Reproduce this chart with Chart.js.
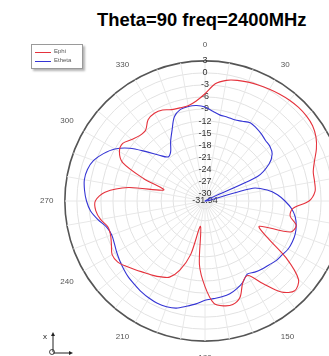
<!DOCTYPE html>
<html>
<head>
<meta charset="utf-8">
<script src="https://cdn.jsdelivr.net/npm/chart.js@4/dist/chart.umd.min.js"></script>
<style>
  html, body { margin: 0; padding: 0; width: 329px; height: 356px; overflow: hidden; background: #fff; }
  body { position: relative; font-family: "Liberation Sans", Arial, sans-serif; }
  .chart-title { position: absolute; left: 97px; top: 11px; white-space: nowrap; font-weight: bold; font-size: 18.4px; line-height: 18px; color: #000; }
  .chart-box { position: absolute; left: 38px; top: 37px; width: 330px; height: 330px; }
  .legend { position: absolute; left: 31px; top: 44px; width: 50px; height: 23px; border: 1px solid #9a9a9a; background: #fff; box-shadow: 2px 2px 2px #b5b5b5; font-size: 6px; color: #555; }
  .legend div { position: absolute; left: 22px; line-height: 7px; }
  .legend span { position: absolute; left: 3px; width: 16px; height: 0; }
  .axis-icon { position: absolute; left: 40px; top: 328px; }
</style>
</head>
<body>
<div class="chart-title">Theta=90 freq=2400MHz</div>
<div class="chart-box"><canvas id="polarChart"></canvas></div>
<div class="legend">
  <span style="top:7px;border-top:1px solid #e5323c"></span><div style="top:3px">Ephi</div>
  <span style="top:16px;border-top:1px solid #3434d4"></span><div style="top:12px">Etheta</div>
</div>
<svg class="axis-icon" width="40" height="28" viewBox="0 0 40 28">
  <text x="3" y="11" font-size="8" font-family="Liberation Sans, Arial" fill="#222">x</text>
  <line x1="13" y1="24" x2="13" y2="6" stroke="#222" stroke-width="1"/>
  <polygon points="13,4 11,8 15,8" fill="#222"/>
  <line x1="13" y1="25" x2="31" y2="25" stroke="#222" stroke-width="1"/>
  <polygon points="33,25 29,23 29,27" fill="#222"/>
  <circle cx="12" cy="24" r="2.5" fill="none" stroke="#222" stroke-width="0.8"/>
</svg>
<script>
  // angles in degrees, 5 degree steps, 0 at top and clockwise
  const angles = [];
  for (let a = 0; a < 360; a += 5) angles.push(String(a));

  const radialTicks = [-31.94, -30, -27, -24, -21, -18, -15, -12, -9, -6, -3, 0, 3];

  const ephi = [
    -5.2, -2.6, -1.4, -0.8, -0.4, -0.1, 0.2, 0.55, 0.85, 1.05, 1.05, 0.8,
    0.0, -1.3, -2.9, -4.0, -4.2, -4.4, -6.0, -10.0, -10.4, -8.4, -9.3, -17.0,
    -14.3, -7.3, -1.5, -0.3, -2.3, -6.8, -10.5, -9.6, -6.4, -5.2, -5.4, -6.3,
    -10.6, -16.0, -25.5, -18.1, -13.6, -11.0, -10.1, -9.3, -8.6, -7.6, -6.5, -5.4,
    -5.2, -6.2, -6.9, -6.9, -5.5, -4.6, -4.6, -6.9, -12.6, -21.3, -15.7, -9.3,
    -7.3, -6.9, -8.1, -8.9, -8.9, -7.2, -6.7, -6.9, -7.7, -7.9, -7.8, -6.9,
  ];

  const etheta = [
    -8.5, -9.5, -10.2, -10.3, -10.4, -10.0, -9.4, -9.7, -10.1, -10.6, -10.8, -11.5,
    -13.5, -17.5, -31.94, -19.6, -16.2, -13.8, -12.0, -10.3, -9.1, -8.4, -8.0, -7.9,
    -8.0, -8.5, -8.8, -9.4, -9.8, -10.3, -10.9, -9.6, -8.7, -8.0, -7.7, -7.5,
    -7.2, -6.2, -5.3, -4.3, -3.9, -3.8, -4.0, -4.3, -4.7, -5.0, -5.5, -6.0,
    -6.5, -7.0, -7.2, -6.6, -4.9, -3.3, -2.4, -1.8, -1.4, -1.6, -2.4, -4.0,
    -6.0, -9.0, -12.8, -15.8, -17.6, -17.0, -14.8, -12.5, -9.6, -8.3, -8.0, -8.05,
  ];

  const ctx = document.getElementById("polarChart");

  const polarChart = new Chart(ctx, {
    type: "radar",
    data: {
      labels: angles,
      datasets: [
        {
          label: "Ephi",
          data: ephi,
          borderColor: "#e5323c",
          borderWidth: 1.1,
          fill: false,
          tension: 0.3,
        },
        {
          label: "Etheta",
          data: etheta,
          borderColor: "#3434d4",
          borderWidth: 1.1,
          fill: false,
          tension: 0.3,
        },
      ],
    },
    options: {
      responsive: true,
      maintainAspectRatio: false,
      animation: false,
      elements: {
        point: { radius: 0, hoverRadius: 0 },
      },
      scales: {
        r: {
          min: radialTicks[0],
          max: radialTicks[radialTicks.length - 1],
          afterBuildTicks(scale) {
            scale.ticks = radialTicks.map((value) => ({ value }));
          },
          ticks: {
            showLabelBackdrop: false,
            color: "#333",
            font: { family: "Liberation Sans", size: 9 },
            callback(value) {
              return String(value);
            },
          },
          grid: {
            circular: true,
            color(context) {
              return context.index === radialTicks.length - 1 ? "#555" : "#e2e2e2";
            },
            lineWidth(context) {
              return context.index === radialTicks.length - 1 ? 1.6 : 1;
            },
          },
          angleLines: {
            color(context) {
              return context.index % 2 === 0 ? "#e8e8e8" : "rgba(0,0,0,0)";
            },
          },
          pointLabels: {
            padding: 5,
            color: "#555",
            font: { family: "Liberation Sans", size: 8 },
            callback(label) {
              return Number(label) % 30 === 0 ? label : "";
            },
          },
        },
      },
      plugins: {
        legend: { display: false },
        tooltip: { enabled: false },
      },
    },
  });
</script>
</body>
</html>
